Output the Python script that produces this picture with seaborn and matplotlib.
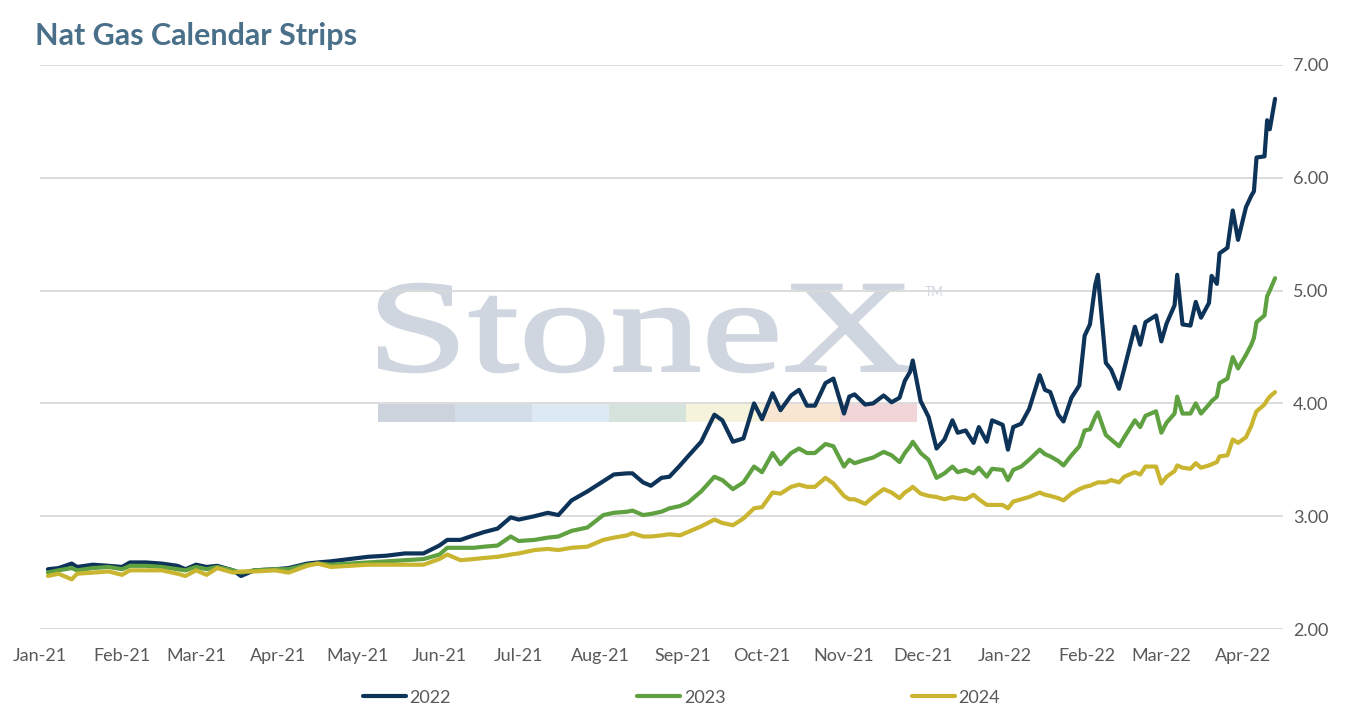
import matplotlib
matplotlib.use("Agg")
import matplotlib.pyplot as plt
import matplotlib.dates as mdates
from matplotlib.ticker import FormatStrFormatter
from matplotlib.textpath import TextPath
from matplotlib.font_manager import FontProperties
from matplotlib.patches import PathPatch, Rectangle
from matplotlib.transforms import Affine2D
import seaborn as sns
import pandas as pd

# values (calendar strip settlements, $/MMBtu)
dates = [
    "2021-01-04", "2021-01-08", "2021-01-13", "2021-01-15", "2021-01-21", "2021-01-27",
    "2021-02-01", "2021-02-04", "2021-02-10", "2021-02-16", "2021-02-22", "2021-02-25",
    "2021-03-01", "2021-03-05", "2021-03-09", "2021-03-15", "2021-03-18", "2021-03-23",
    "2021-03-31", "2021-04-05", "2021-04-12", "2021-04-16", "2021-04-21", "2021-04-28",
    "2021-05-05", "2021-05-12", "2021-05-19", "2021-05-26", "2021-06-01", "2021-06-04",
    "2021-06-09", "2021-06-14", "2021-06-18", "2021-06-23", "2021-06-28", "2021-07-01",
    "2021-07-07", "2021-07-12", "2021-07-16", "2021-07-21", "2021-07-27", "2021-08-02",
    "2021-08-06", "2021-08-11", "2021-08-13", "2021-08-17", "2021-08-20", "2021-08-24",
    "2021-08-27", "2021-08-31", "2021-09-03", "2021-09-08", "2021-09-13", "2021-09-16",
    "2021-09-20", "2021-09-24", "2021-09-28", "2021-10-01", "2021-10-05", "2021-10-08",
    "2021-10-12", "2021-10-15", "2021-10-18", "2021-10-21", "2021-10-25", "2021-10-28",
    "2021-11-01", "2021-11-03", "2021-11-05", "2021-11-09", "2021-11-12", "2021-11-16",
    "2021-11-19", "2021-11-22", "2021-11-24", "2021-11-26", "2021-11-27", "2021-11-30",
    "2021-12-03", "2021-12-06", "2021-12-09", "2021-12-12", "2021-12-14", "2021-12-17",
    "2021-12-20", "2021-12-22", "2021-12-25", "2021-12-27", "2021-12-31", "2022-01-02",
    "2022-01-04", "2022-01-07", "2022-01-10", "2022-01-14", "2022-01-16", "2022-01-18",
    "2022-01-21", "2022-01-23", "2022-01-26", "2022-01-29", "2022-01-31", "2022-02-02",
    "2022-02-04", "2022-02-05", "2022-02-08", "2022-02-10", "2022-02-13", "2022-02-15",
    "2022-02-19", "2022-02-21", "2022-02-23", "2022-02-27", "2022-03-01", "2022-03-03",
    "2022-03-06", "2022-03-07", "2022-03-09", "2022-03-12", "2022-03-14", "2022-03-16",
    "2022-03-19", "2022-03-20", "2022-03-22", "2022-03-23", "2022-03-26", "2022-03-28",
    "2022-03-30", "2022-04-02", "2022-04-04", "2022-04-05", "2022-04-06", "2022-04-09",
    "2022-04-10", "2022-04-11", "2022-04-13",
]

strip_2022 = [
    2.53, 2.54, 2.58, 2.55, 2.57, 2.56, 2.55, 2.59, 2.59, 2.58, 2.56, 2.53,
    2.57, 2.55, 2.56, 2.52, 2.47, 2.52, 2.53, 2.54, 2.58, 2.59, 2.60, 2.62,
    2.64, 2.65, 2.67, 2.67, 2.74, 2.79, 2.79, 2.83, 2.86, 2.89, 2.99, 2.97,
    3.00, 3.03, 3.01, 3.14, 3.22, 3.31, 3.37, 3.38, 3.38, 3.30, 3.27, 3.34,
    3.35, 3.45, 3.53, 3.66, 3.90, 3.85, 3.66, 3.69, 4.00, 3.86, 4.09, 3.94,
    4.07, 4.12, 3.98, 3.98, 4.18, 4.22, 3.91, 4.06, 4.08, 3.99, 4.00, 4.07,
    4.01, 4.05, 4.20, 4.28, 4.38, 4.02, 3.88, 3.60, 3.68, 3.85, 3.74, 3.76,
    3.65, 3.79, 3.66, 3.85, 3.81, 3.59, 3.79, 3.82, 3.95, 4.25, 4.12, 4.10,
    3.90, 3.84, 4.05, 4.16, 4.60, 4.70, 5.05, 5.14, 4.36, 4.30, 4.13, 4.31,
    4.68, 4.52, 4.72, 4.78, 4.55, 4.71, 4.87, 5.14, 4.70, 4.69, 4.90, 4.76,
    4.89, 5.13, 5.06, 5.33, 5.38, 5.71, 5.45, 5.74, 5.84, 5.88, 6.18, 6.19,
    6.51, 6.43, 6.70,
]

strip_2023 = [
    2.50, 2.52, 2.54, 2.52, 2.54, 2.55, 2.53, 2.56, 2.56, 2.55, 2.53, 2.52,
    2.55, 2.53, 2.55, 2.52, 2.50, 2.52, 2.53, 2.53, 2.57, 2.58, 2.57, 2.58,
    2.59, 2.60, 2.61, 2.62, 2.66, 2.72, 2.72, 2.72, 2.73, 2.74, 2.82, 2.78,
    2.79, 2.81, 2.82, 2.87, 2.90, 3.01, 3.03, 3.04, 3.05, 3.01, 3.02, 3.04,
    3.07, 3.09, 3.12, 3.22, 3.35, 3.32, 3.24, 3.30, 3.44, 3.39, 3.56, 3.46,
    3.56, 3.60, 3.56, 3.56, 3.64, 3.62, 3.44, 3.50, 3.47, 3.50, 3.52, 3.57,
    3.54, 3.48, 3.56, 3.62, 3.66, 3.56, 3.50, 3.34, 3.38, 3.44, 3.39, 3.41,
    3.38, 3.43, 3.35, 3.42, 3.41, 3.32, 3.41, 3.44, 3.50, 3.59, 3.55, 3.53,
    3.49, 3.45, 3.54, 3.62, 3.76, 3.77, 3.88, 3.92, 3.72, 3.68, 3.62, 3.70,
    3.85, 3.79, 3.89, 3.93, 3.74, 3.83, 3.91, 4.06, 3.91, 3.91, 4.00, 3.91,
    3.99, 4.02, 4.06, 4.18, 4.22, 4.41, 4.31, 4.43, 4.52, 4.58, 4.72, 4.78,
    4.95, 5.00, 5.11,
]

strip_2024 = [
    2.47, 2.49, 2.44, 2.49, 2.50, 2.51, 2.48, 2.52, 2.52, 2.52, 2.49, 2.47,
    2.52, 2.48, 2.54, 2.50, 2.51, 2.51, 2.52, 2.50, 2.56, 2.58, 2.55, 2.56,
    2.57, 2.57, 2.57, 2.57, 2.62, 2.66, 2.61, 2.62, 2.63, 2.64, 2.66, 2.67,
    2.70, 2.71, 2.70, 2.72, 2.73, 2.79, 2.81, 2.83, 2.85, 2.82, 2.82, 2.83,
    2.84, 2.83, 2.86, 2.91, 2.97, 2.94, 2.92, 2.98, 3.07, 3.08, 3.21, 3.20,
    3.26, 3.28, 3.26, 3.26, 3.34, 3.29, 3.18, 3.15, 3.15, 3.11, 3.17, 3.24,
    3.21, 3.16, 3.21, 3.24, 3.26, 3.20, 3.18, 3.17, 3.15, 3.17, 3.16, 3.15,
    3.19, 3.15, 3.10, 3.10, 3.10, 3.07, 3.13, 3.15, 3.17, 3.21, 3.19, 3.18,
    3.16, 3.14, 3.20, 3.24, 3.26, 3.27, 3.29, 3.30, 3.30, 3.32, 3.30, 3.35,
    3.39, 3.37, 3.44, 3.44, 3.29, 3.35, 3.40, 3.45, 3.43, 3.42, 3.47, 3.43,
    3.45, 3.46, 3.48, 3.53, 3.54, 3.68, 3.65, 3.70, 3.80, 3.87, 3.93, 3.99,
    4.03, 4.06, 4.10,
]

strip_names = ["2022", "2023", "2024"]
strip_colors = ["#0e3358", "#5fa140", "#c9b530"]
y_ticks = [2, 3, 4, 5, 6, 7]

df = pd.DataFrame({"date": pd.to_datetime(dates),
                   "2022": strip_2022, "2023": strip_2023, "2024": strip_2024})
df = df.melt(id_vars="date", var_name="strip", value_name="price")

sns.set_theme(style="white")
plt.rcParams["font.family"] = ["Lato", "DejaVu Sans"]
grey_text = "#595959"

fig = plt.figure(figsize=(13.51, 7.2), dpi=100)

# background layer in pixel units for the watermark
bg = fig.add_axes([0, 0, 1, 1], zorder=0)
bg.set_xlim(0, 1351)
bg.set_ylim(720, 0)
bg.axis("off")

tp = TextPath((0, 0), "StoneX", size=100, prop=FontProperties(family="Liberation Serif"))
ext = tp.get_extents()
tr = Affine2D().translate(-ext.x0, -ext.y0).scale(532 / ext.width, -88 / ext.height).translate(379, 372)
bg.add_patch(PathPatch(tr.transform_path(tp), fc="#cfd6df", ec="#cfd6df", lw=1.8))
bg.text(925, 292, "TM", fontsize=9, color="#cfd6df", va="center", ha="left")
bar_colors = ["#cdd3dc", "#d3dde8", "#dde9f3", "#d6e3dc", "#f6f3dc", "#f8e6d2", "#f2d5d8"]
for i, c in enumerate(bar_colors):
    bg.add_patch(Rectangle((378 + i * 77, 404), 77, 18, fc=c, ec="none"))

ax = fig.add_axes([40 / 1351, 91 / 720, 1243 / 1351, 564 / 720], zorder=1)
ax.set_facecolor("none")

sns.lineplot(data=df, x="date", y="price", hue="strip", hue_order=strip_names,
             palette=strip_colors, linewidth=3, ax=ax)

ax.set_xlim(pd.Timestamp("2021-01-01"), pd.Timestamp("2022-04-16"))
ax.set_ylim(2, 7)
ax.set_yticks(y_ticks)
ax.yaxis.set_major_formatter(FormatStrFormatter("%.2f"))
ax.yaxis.tick_right()
ax.xaxis.set_major_locator(mdates.MonthLocator())
ax.xaxis.set_major_formatter(mdates.DateFormatter("%b-%y"))
ax.grid(axis="y", color="#d9d9d9", linewidth=1.3)
ax.set_axisbelow(True)
ax.tick_params(axis="x", length=0, pad=14, labelsize=13, colors=grey_text)
ax.tick_params(axis="y", length=0, pad=7, labelsize=13, colors=grey_text)
ax.set_xlabel("")
ax.set_ylabel("")
for s in ax.spines.values():
    s.set_visible(False)

sns.move_legend(ax, "center", bbox_to_anchor=(0.516, -0.122), ncol=3, frameon=False,
                title=None, fontsize=13, handlelength=2.4, handletextpad=0.2,
                columnspacing=10.3, labelcolor=grey_text)

fig.text(35 / 1351, 1 - 45 / 720, "Nat Gas Calendar Strips", fontsize=22,
         fontweight="bold", color="#4a7089", va="baseline", ha="left")

fig.savefig("out.png", dpi=100)
